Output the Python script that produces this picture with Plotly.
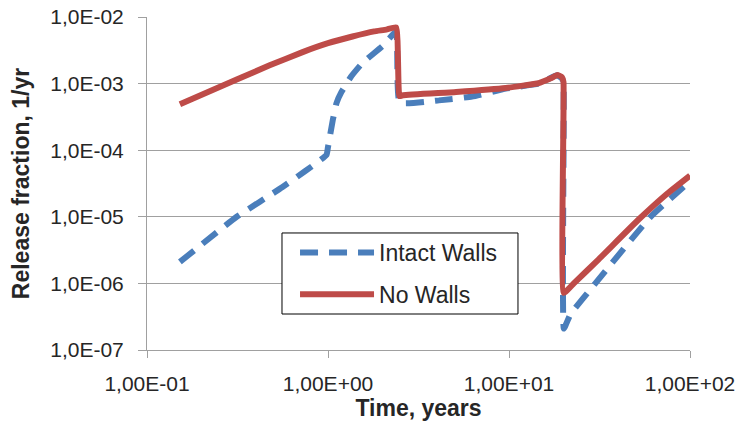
import plotly.graph_objects as go

# Release fraction versus time for the two wall scenarios
intact_time = [0.152, 0.313, 0.561, 0.981, 1.0, 1.063, 1.114, 1.187, 1.348, 1.549, 2.0, 2.38,
               2.49, 4.1, 6.25, 9.6, 14.6, 18.4, 19.6, 20.0, 20.1,
               21.8, 30.0, 60.5, 100.0]
intact_rate = [2.1e-6, 1.0e-5, 2.8e-5, 8.5e-5, 1.12e-4, 2.84e-4, 5.1e-4, 7.5e-4, 1.3e-3, 2.04e-3, 3.67e-3, 6.0e-3,
               5.2e-4, 5.6e-4, 6.4e-4, 8.4e-4, 1.0e-3, 1.33e-3, 1.2e-3, 1.0e-3, 2.1e-7,
               3.4e-7, 1.0e-6, 1.0e-5, 3.4e-5]

nowall_time = [0.152, 0.313, 0.476, 0.724, 1.0, 1.365, 1.8, 2.1, 2.38,
               2.48, 2.6, 5.1, 9.6, 14.6, 17.0, 18.5, 19.6, 20.0, 20.1,
               22.8, 31.3, 52.0, 75.0, 100.0]
nowall_rate = [4.9e-4, 1.15e-3, 1.88e-3, 2.97e-3, 4.04e-3, 5.1e-3, 6.08e-3, 6.47e-3, 6.98e-3,
               6.5e-4, 6.7e-4, 7.5e-4, 8.6e-4, 1.02e-3, 1.2e-3, 1.35e-3, 1.25e-3, 1.05e-3, 7.2e-7,
               1.0e-6, 2.3e-6, 9.1e-6, 2.24e-5, 4.16e-5]

x_tickvals = [0.1, 1, 10, 100]
x_ticktext = ["1,00E-01", "1,00E+00", "1,00E+01", "1,00E+02"]
y_tickvals = [1e-7, 1e-6, 1e-5, 1e-4, 1e-3, 1e-2]
y_ticktext = ["1,0E-07", "1,0E-06", "1,0E-05", "1,0E-04", "1,0E-03", "1,0E-02"]

FONT = "Liberation Sans, Arial, sans-serif"
GRID = "#a0a0a0"
TEXT = "#262626"

fig = go.Figure()
fig.add_trace(go.Scatter(
    x=intact_time, y=intact_rate, mode="lines", name="Intact Walls",
    legendgroup="intact",
    line=dict(color="#4a7ebb", width=6, dash="18px,11px", shape="spline", smoothing=0.35),
))
fig.add_trace(go.Scatter(
    x=nowall_time, y=nowall_rate, mode="lines", name="No Walls",
    legendgroup="nowall",
    line=dict(color="#be4b48", width=6, shape="spline", smoothing=0.35),
))

# framed white panel behind the legend entries
fig.add_shape(
    type="rect", xref="paper", yref="paper",
    x0=0.2486, x1=0.6832, y0=0.1081, y1=0.3514,
    line=dict(color="#000000", width=1), fillcolor="white", layer="above",
)

fig.update_layout(
    width=736, height=421, autosize=False,
    margin=dict(l=147, r=46, t=17, b=71),
    paper_bgcolor="white", plot_bgcolor="white",
    font=dict(family=FONT, size=21, color=TEXT),
    legend=dict(
        x=0.2726, y=0.3574, xanchor="left", yanchor="top",
        bgcolor="rgba(0,0,0,0)", borderwidth=0,
        font=dict(family=FONT, size=23, color=TEXT),
        itemwidth=74, traceorder="grouped", tracegroupgap=9,
    ),
)
fig.update_xaxes(
    type="log", range=[-1, 2], automargin=False,
    tickvals=x_tickvals, ticktext=x_ticktext,
    showgrid=False, showline=True, linecolor=GRID, linewidth=1,
    ticks="outside", ticklen=7, tickcolor=GRID, ticklabelstandoff=8,
    title=dict(text="<b>Time, years</b>", font=dict(family=FONT, size=23, color=TEXT), standoff=5),
    zeroline=False,
)
fig.update_yaxes(
    type="log", range=[-7, -2], automargin=False,
    tickvals=y_tickvals, ticktext=y_ticktext,
    showgrid=True, gridcolor=GRID, gridwidth=1,
    showline=True, linecolor=GRID, linewidth=1,
    ticks="outside", ticklen=8, tickcolor=GRID, ticklabelstandoff=10,
    title=dict(text="<b>Release fraction, 1/yr</b>", font=dict(family=FONT, size=23, color=TEXT), standoff=14),
    zeroline=False,
)

fig.write_html("out.html")
